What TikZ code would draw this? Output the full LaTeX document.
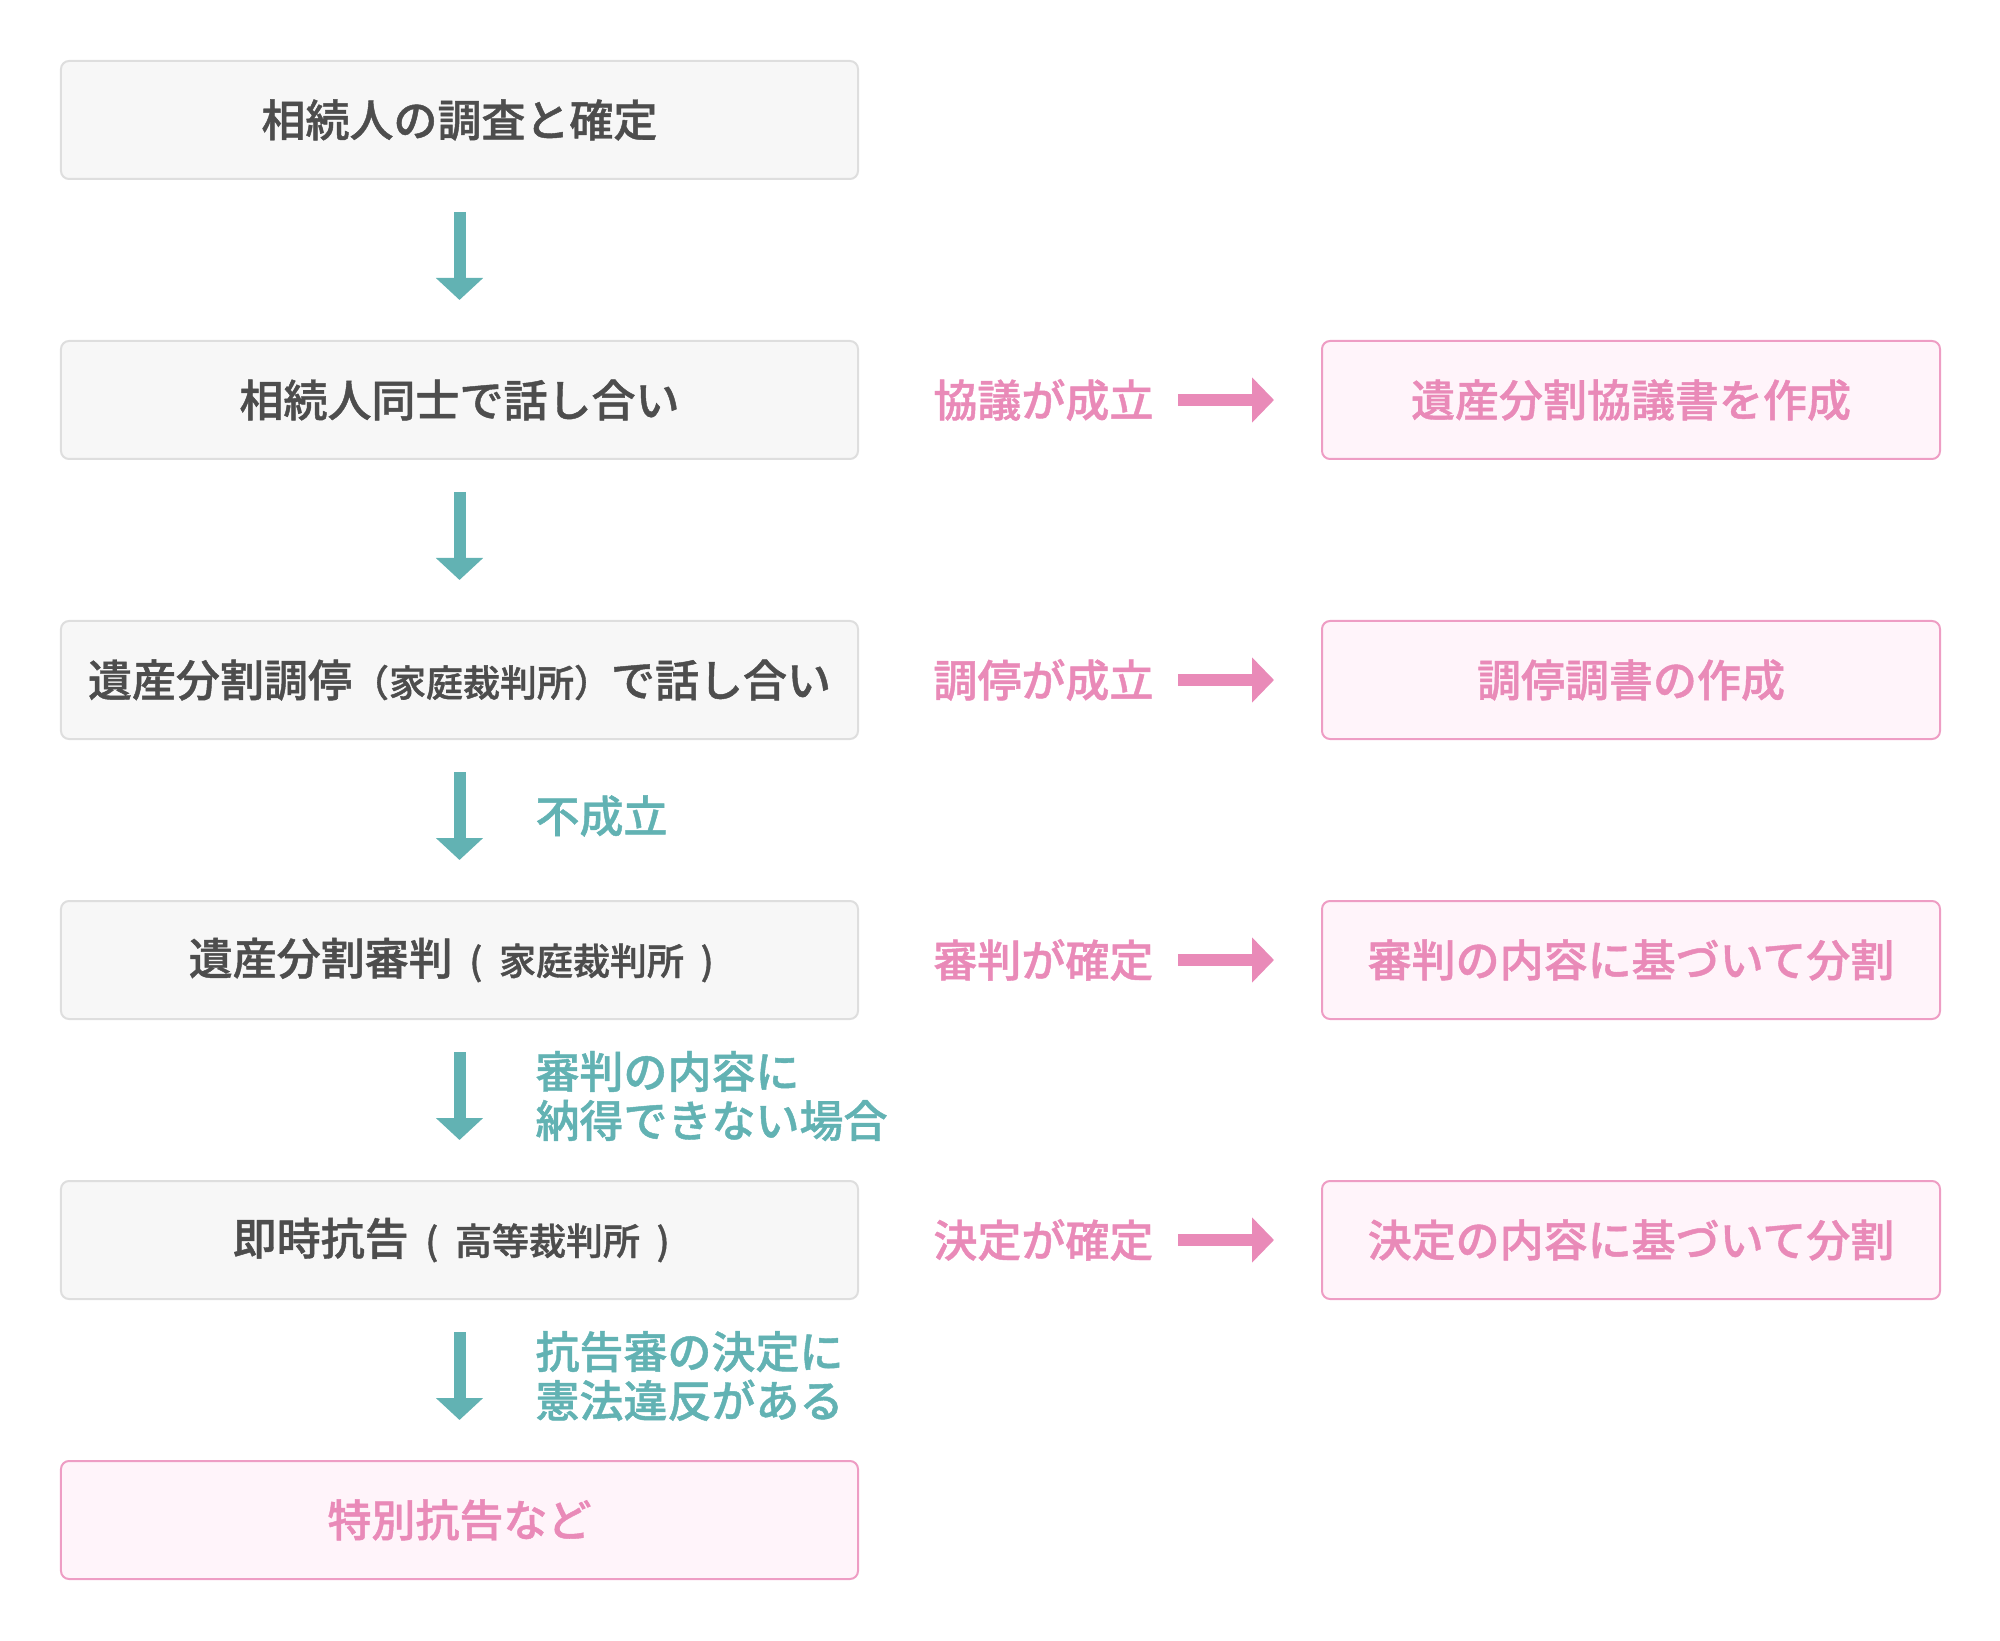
\documentclass[tikz,border=0pt]{standalone}
\usepackage{fontspec}
\newfontfamily\jpfont{Noto Sans CJK JP}[UprightFont={* Medium},FakeBold=1]
\usetikzlibrary{positioning,arrows.meta}
\definecolor{textgray}{HTML}{4D4D4D}
\definecolor{boxline}{HTML}{DEDEDE}
\definecolor{boxfill}{HTML}{F7F7F7}
\definecolor{pinktext}{HTML}{E98AB8}
\definecolor{pinkline}{HTML}{EE9DC4}
\definecolor{pinkfill}{HTML}{FFF4FA}
\definecolor{tealtext}{HTML}{62B2B3}
\newcommand{\smallpart}[1]{{\fontsize{18.5pt}{22pt}\selectfont #1}}
\newcommand{\halfparen}[1]{\makebox[1.25em]{#1}}

\begin{document}
\begin{tikzpicture}[>=latex,node distance=80pt,
    font=\jpfont\fontsize{22pt}{24.5pt}\selectfont,
    flowbox/.style={draw=boxline,fill=boxfill,line width=1pt,rounded corners=4pt,minimum width=398.5pt,minimum height=59pt,inner sep=0pt,text=textgray},
    resultbox/.style={draw=pinkline,fill=pinkfill,line width=1pt,rounded corners=4pt,minimum width=309pt,minimum height=59pt,inner sep=0pt,text=pinktext},
    pinklabel/.style={inner sep=0pt,text=pinktext},
    teallabel/.style={inner sep=0pt,align=left,text=tealtext},
    downarrow/.style={draw=tealtext,line width=6pt,-{Triangle[width=23pt,length=11pt]}},
    rightarrow/.style={draw=pinktext,line width=6pt,-{Triangle[width=22pt,length=11pt]}}]
    \useasboundingbox (-229.75pt,60pt) rectangle (770.25pt,-760.5pt);
    % left column
    \node[flowbox] (survey) at (0,0) {相続人の調査と確定};
    \node[flowbox,below=of survey] (talk) {相続人同士で話し合い};
    \node[flowbox,below=of talk] (mediation) {遺産分割調停\smallpart{（家庭裁判所）}で話し合い};
    \node[flowbox,below=of mediation] (ruling) {遺産分割審判\smallpart{\halfparen{(}家庭裁判所\halfparen{)}}};
    \node[flowbox,below=of ruling] (appeal) {即時抗告\smallpart{\halfparen{(}高等裁判所\halfparen{)}}};
    \node[resultbox,minimum width=398.5pt,below=of appeal] (special) {特別抗告など};
    % right column
    \node[resultbox,right=231pt of talk] (agreedoc) {遺産分割協議書を作成};
    \node[resultbox,right=231pt of mediation] (mediationdoc) {調停調書の作成};
    \node[resultbox,right=231pt of ruling] (rulingsplit) {審判の内容に基づいて分割};
    \node[resultbox,right=231pt of appeal] (appealsplit) {決定の内容に基づいて分割};
    \node[pinklabel,right=37pt of talk] (agreed) {協議が成立};
    \node[pinklabel,right=37pt of mediation] (mediated) {調停が成立};
    \node[pinklabel,right=37pt of ruling] (ruled) {審判が確定};
    \node[pinklabel,right=37pt of appeal] (decided) {決定が確定};
    % arrows
    \draw[downarrow] ([yshift=-16pt]survey.south) -- ([yshift=20pt]talk.north);
    \draw[downarrow] ([yshift=-16pt]talk.south) -- ([yshift=20pt]mediation.north);
    \draw[downarrow] ([yshift=-16pt]mediation.south) -- ([yshift=20pt]ruling.north)
        node[teallabel,midway,right=35pt] (failed) {不成立};
    \draw[downarrow] ([yshift=-16pt]ruling.south) -- ([yshift=20pt]appeal.north)
        node[teallabel,midway,right=35pt] (dissatisfied) {審判の内容に\\納得できない場合};
    \draw[downarrow] ([yshift=-16pt]appeal.south) -- ([yshift=20pt]special.north)
        node[teallabel,midway,right=35pt] (unconstitutional) {抗告審の決定に\\憲法違反がある};
    \draw[rightarrow] ([xshift=12pt]agreed.east) -- ([xshift=-23.5pt]agreedoc.west);
    \draw[rightarrow] ([xshift=12pt]mediated.east) -- ([xshift=-23.5pt]mediationdoc.west);
    \draw[rightarrow] ([xshift=12pt]ruled.east) -- ([xshift=-23.5pt]rulingsplit.west);
    \draw[rightarrow] ([xshift=12pt]decided.east) -- ([xshift=-23.5pt]appealsplit.west);
\end{tikzpicture}
\end{document}
